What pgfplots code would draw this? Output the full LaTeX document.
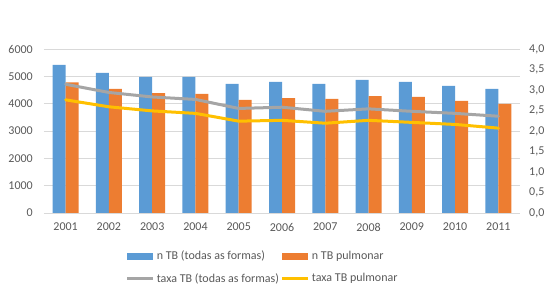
\documentclass[border=0pt]{standalone}
\usepackage{pgfplots}
\pgfplotsset{compat=1.18}
\usepackage{fontspec}
\setmainfont{Carlito}
\definecolor{tbblue}{HTML}{5B9BD5}
\definecolor{tborange}{HTML}{ED7D31}
\definecolor{tbgray}{HTML}{A5A5A5}
\definecolor{tbyellow}{HTML}{FFC000}
\definecolor{gridc}{HTML}{D9D9D9}
\definecolor{txt}{HTML}{595959}
\pgfplotsset{
  barleg/.style={legend image code/.code={\fill[##1] (0pt,-3.5pt) rectangle (26pt,3.5pt);}},
  lineleg/.style={legend image code/.code={\draw[##1, line cap=butt] (0pt,0pt) -- (26pt,0pt);}},
  common/.style={
    at={(44pt,83pt)}, anchor=south west,
    scale only axis, width=476pt, height=164pt,
    xmin=-0.5, xmax=10.5,
    axis line style={draw=none},
    major tick length=0pt,
    tick label style={font=\fontsize{12}{14}\selectfont, text=txt},
    /pgf/number format/assume math mode=true,
  }
}
\begin{document}
\begin{tikzpicture}[x=1pt,y=1pt]
\path[use as bounding box] (0,0) rectangle (554,296);
\begin{axis}[common,
  ymin=0, ymax=6000, ytick={0,1000,...,6000},
  ymajorgrids, grid style={gridc, line width=0.75pt},
  yticklabel style={/pgf/number format/1000 sep={}, inner sep=0pt, anchor=east, xshift=-11pt},
  xtick={0,...,10},
  xticklabels={2001,2002,2003,2004,2005,2006,2007,2008,2009,2010,2011},
  xticklabel style={inner sep=0pt, anchor=north, yshift=-10pt},
]
\addplot[ybar, bar width=13pt, bar shift=-6.5pt, fill=tbblue, draw=none] coordinates {
(0,5415) (1,5122) (2,4976) (3,4976) (4,4720) (5,4793) (6,4720) (7,4866) (8,4793) (9,4647) (10,4537)};
\addplot[ybar, bar width=13pt, bar shift=6.5pt, fill=tborange, draw=none] coordinates {
(0,4782) (1,4537) (2,4390) (3,4354) (4,4134) (5,4207) (6,4171) (7,4280) (8,4244) (9,4098) (10,3988)};
\end{axis}
\begin{axis}[common,
  ymin=0, ymax=4, ytick={0,0.5,...,4},
  axis y line*=right,
  xtick=\empty,
  yticklabel style={/pgf/number format/.cd, use comma, fixed, fixed zerofill, precision=1, /tikz/.cd, inner sep=0pt, anchor=west, xshift=9pt},
  legend columns=2,
  legend cell align=left,
  legend style={draw=none, fill=none, at={(0.172,-0.22)}, anchor=north west,
    inner sep=0pt, outer sep=0pt, row sep=8pt,
    font=\fontsize{12}{14}\selectfont, text=txt,
    /tikz/every even column/.append style={column sep=0pt}},
]
\addlegendimage{fill=tbblue, draw=none, barleg}
\addlegendentry{n TB (todas as formas)}
\addlegendimage{fill=tborange, draw=none, barleg}
\addlegendentry{n TB pulmonar}
\addplot[tbgray, line width=3pt, line join=round, line cap=round, lineleg] coordinates {
(0,3.14) (1,2.94) (2,2.83) (3,2.77) (4,2.55) (5,2.58) (6,2.48) (7,2.54) (8,2.48) (9,2.43) (10,2.36)};
\addlegendentry{taxa TB (todas as formas)}
\addplot[tbyellow, line width=3pt, line join=round, line cap=round, lineleg] coordinates {
(0,2.76) (1,2.59) (2,2.49) (3,2.43) (4,2.24) (5,2.26) (6,2.19) (7,2.26) (8,2.21) (9,2.16) (10,2.07)};
\addlegendentry{taxa TB pulmonar}
\end{axis}
\end{tikzpicture}
\end{document}
